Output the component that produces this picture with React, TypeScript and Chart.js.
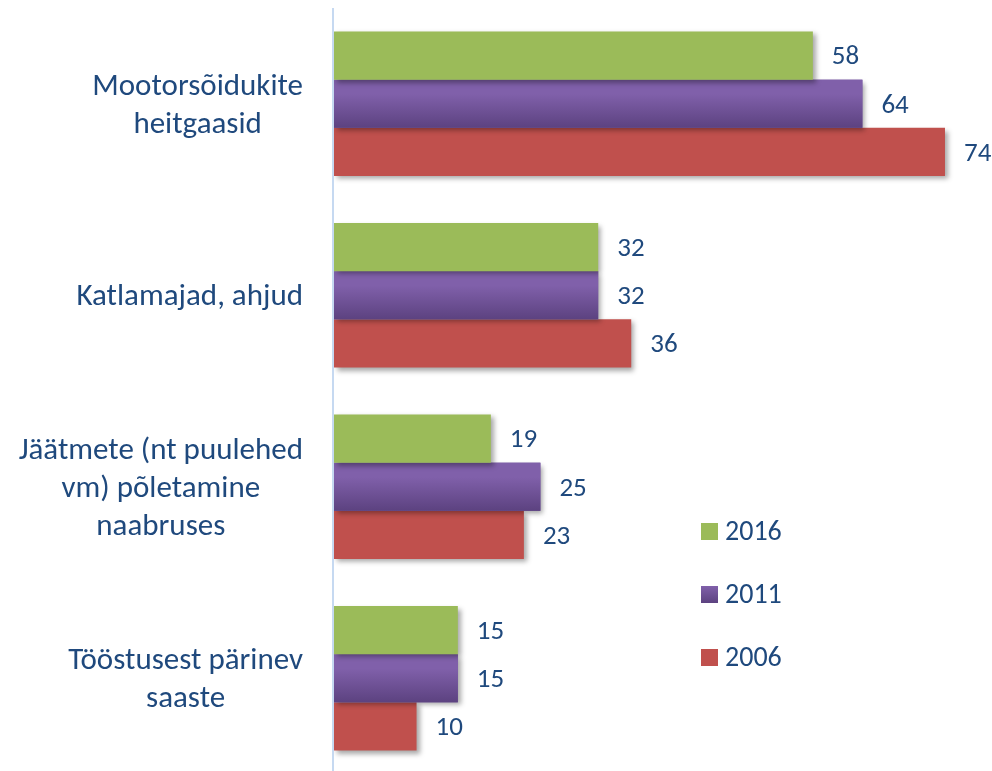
import React, { useEffect, useRef } from "react";
import { Chart, registerables } from "chart.js";

Chart.register(...registerables);

const categories: string[][] = [
  ["Mootorsõidukite", "heitgaasid"],
  ["Katlamajad, ahjud"],
  ["Jäätmete (nt puulehed", "vm) põletamine", "naabruses"],
  ["Tööstusest pärinev", "saaste"],
];
const seriesNames = ["2016", "2011", "2006"];
const values2016 = [58, 32, 19, 15];
const values2011 = [64, 32, 25, 15];
const values2006 = [74, 36, 23, 10];

const GREEN = "#9BBB59";
const PURPLE = "#7458A0";
const PURPLE_TOP = "#8060AA";
const PURPLE_BOTTOM = "#5C4280";
const RED = "#C0504D";
const TEXT = "#1F497D";
const FONT = "Carlito, Calibri, Lato, sans-serif";

const customDraw = {
  id: "customDraw",
  beforeDatasetsDraw(chart: any) {
    const c = chart.ctx;
    c.save();
    c.shadowColor = "rgba(0,0,0,0.35)";
    c.shadowBlur = 5;
    c.shadowOffsetX = 3;
    c.shadowOffsetY = 3;
  },
  afterDatasetDraw(chart: any, args: any) {
    if (args.index !== 1) return;
    const c = chart.ctx;
    c.save();
    c.shadowColor = "rgba(0,0,0,0)";
    c.shadowBlur = 0;
    c.shadowOffsetX = 0;
    c.shadowOffsetY = 0;
    const meta = chart.getDatasetMeta(1);
    meta.data.forEach((el: any) => {
      const p = el.getProps(["x", "y", "base", "height"], true);
      const top = p.y - p.height / 2;
      const g = c.createLinearGradient(0, top, 0, top + p.height);
      g.addColorStop(0, PURPLE_TOP);
      g.addColorStop(0.3, PURPLE_TOP);
      g.addColorStop(1, PURPLE_BOTTOM);
      c.fillStyle = g;
      c.fillRect(Math.min(p.base, p.x), top, Math.abs(p.x - p.base), p.height);
    });
    c.restore();
  },
  afterDatasetsDraw(chart: any) {
    const c = chart.ctx;
    c.restore();
    c.save();
    c.fillStyle = TEXT;
    c.font = `27px ${FONT}`;
    c.textAlign = "left";
    c.textBaseline = "middle";
    chart.data.datasets.forEach((ds: any, i: number) => {
      const meta = chart.getDatasetMeta(i);
      meta.data.forEach((el: any, j: number) => {
        const p = el.getProps(["x", "y"], true);
        c.fillText(String(ds.data[j]), p.x + 19, p.y + 2);
      });
    });
    c.restore();
  },
  afterDraw(chart: any) {
    const c = chart.ctx;
    const area = chart.chartArea;
    const yScale = chart.scales.y;
    c.save();
    // axis line
    c.strokeStyle = "#C6D9F1";
    c.lineWidth = 2;
    c.beginPath();
    c.moveTo(area.left - 1, 8);
    c.lineTo(area.left - 1, chart.height);
    c.stroke();
    // category labels
    c.fillStyle = TEXT;
    c.font = `31px ${FONT}`;
    c.textAlign = "center";
    c.textBaseline = "middle";
    const lineH = 38;
    categories.forEach((lines, i) => {
      const cy = yScale.getPixelForValue(i);
      const maxW = Math.max(...lines.map((l) => c.measureText(l).width));
      const cx = 303 - maxW / 2;
      lines.forEach((l, k) => {
        const y = cy + (k - (lines.length - 1) / 2) * lineH;
        c.fillText(l, cx, y + 2);
      });
    });
    // legend
    const colors = [GREEN, "purple", RED];
    const rowsY = [531, 594, 657];
    c.font = `28px ${FONT}`;
    c.textAlign = "left";
    seriesNames.forEach((name, i) => {
      const y = rowsY[i];
      if (colors[i] === "purple") {
        const g = c.createLinearGradient(0, y - 8, 0, y + 9);
        g.addColorStop(0, PURPLE_TOP);
        g.addColorStop(1, PURPLE_BOTTOM);
        c.fillStyle = g;
      } else {
        c.fillStyle = colors[i];
      }
      c.fillRect(701, y - 8, 17, 17);
      c.fillStyle = TEXT;
      c.fillText(name, 725, y + 2);
    });
    c.restore();
  },
};

export default function App() {
  const ref = useRef<HTMLCanvasElement | null>(null);
  useEffect(() => {
    if (!ref.current) return;
    const chart = new Chart(ref.current, {
      type: "bar",
      data: {
        labels: categories.map((l) => l.join(" ")),
        datasets: [
          { label: seriesNames[0], data: values2016, backgroundColor: GREEN },
          { label: seriesNames[1], data: values2011, backgroundColor: PURPLE },
          { label: seriesNames[2], data: values2006, backgroundColor: RED },
        ],
      },
      options: {
        indexAxis: "y",
        responsive: false,
        animation: false,
        devicePixelRatio: 1,
        layout: { padding: { left: 334, right: 14, top: 8, bottom: 0 } },
        datasets: { bar: { categoryPercentage: 0.755, barPercentage: 1 } },
        scales: {
          x: { display: false, min: 0, max: 78 },
          y: { display: false },
        },
        plugins: { legend: { display: false }, tooltip: { enabled: false } },
      },
      plugins: [customDraw],
    });
    return () => chart.destroy();
  }, []);
  return (
    <div style={{ position: "fixed", left: 0, top: 0, width: 992, height: 771, overflow: "hidden", background: "#fff" }}>
      <canvas ref={ref} width={992} height={774} />
    </div>
  );
}
